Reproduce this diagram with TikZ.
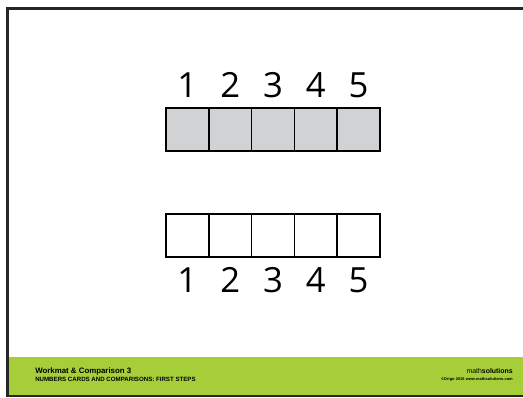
\documentclass[tikz,border=0pt]{standalone}
\usepackage{fontspec}
\setmainfont{Open Sans}
\newfontfamily\footfont{Liberation Sans}
\usetikzlibrary{positioning}
\definecolor{band}{HTML}{A6CE39}
\definecolor{cellgray}{HTML}{D1D2D4}
\definecolor{frameline}{HTML}{262626}

\begin{document}
\begin{tikzpicture}[x=0.75pt, y=-0.75pt, node distance=0pt,
  cell/.style={draw, line width=1.1pt, minimum width=32.1pt, minimum height=32.3pt, inner sep=0pt, outer sep=0pt},
  digit/.style={font=\fontsize{26}{28}\selectfont, inner sep=0pt},
  foot/.style={font=\footfont\bfseries, inner sep=0pt}]
  \useasboundingbox (0,0) rectangle (523,398);
  % page frame and green band
  \fill[band] (9,357) rectangle (523,394.5);
  \draw[frameline, line width=2.2pt] (523,8.5) -- (7.5,8.5) -- (7.5,396) -- (523,396);
  % first row (shaded)
  \node[cell, fill=cellgray] (top1) at (187.4,129.5) {};
  \foreach \i [count=\j from 2] in {1,...,4}
    \node[cell, fill=cellgray, right=of top\i] (top\j) {};
  % second row (empty)
  \node[cell] (bot1) at (187.4,235.5) {};
  \foreach \i [count=\j from 2] in {1,...,4}
    \node[cell, right=of bot\i] (bot\j) {};
  % numbers
  \foreach \i in {1,...,5} {
    \node[digit, above=7.5pt of top\i] (ntop\i) {\i};
    \node[digit, below=7.5pt of bot\i] (nbot\i) {\i};
  }
  % footer texts
  \node[foot, anchor=west, font=\footfont\bfseries\fontsize{5.9}{7}\selectfont] (title) at (35,371) {Workmat \& Comparison 3};
  \node[foot, anchor=north west, font=\footfont\bfseries\fontsize{4.6}{5}\selectfont] (subtitle) at (35,377) {NUMBERS CARDS AND COMPARISONS: FIRST STEPS};
  \node[foot, anchor=east, font=\footfont\fontsize{5.2}{6}\selectfont] (brand) at (513,371) {math\textbf{solutions}};
  \node[foot, anchor=north east, font=\footfont\bfseries\fontsize{3}{4}\selectfont] (copy) at (513,377) {©Origo 2016 www.mathsolutions.com};
\end{tikzpicture}
\end{document}
